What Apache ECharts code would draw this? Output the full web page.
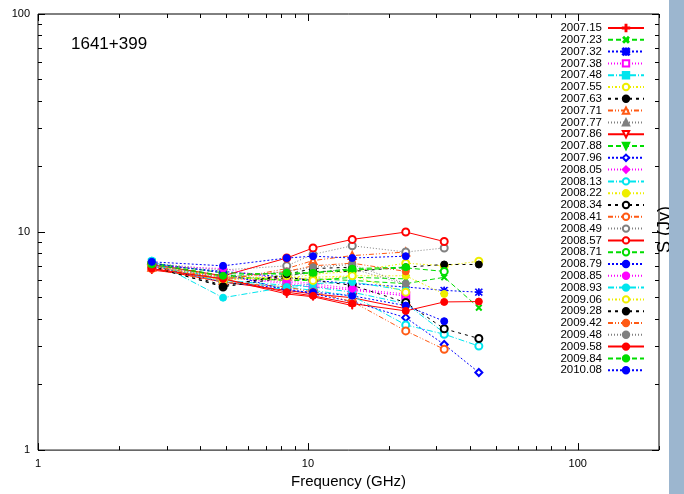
<!DOCTYPE html>
<html><head><meta charset="utf-8">
<script src="https://cdn.jsdelivr.net/npm/echarts@6/dist/echarts.min.js"></script>
<style>html,body{margin:0;padding:0;background:#fff}#c{width:684px;height:494px}</style>
</head><body><div id="c"></div>
<script>
const freqs = [2.64, 4.85, 8.35, 10.45, 14.6, 23.05, 32, 43];
const epochs = ['2007.15','2007.23','2007.32','2007.38','2007.48','2007.55','2007.63','2007.71','2007.77','2007.86','2007.88','2007.96','2008.05','2008.13','2008.22','2008.34','2008.41','2008.49','2008.57','2008.71','2008.79','2008.85','2008.93','2009.06','2009.28','2009.42','2009.48','2009.58','2009.84','2010.08'];
const v2007_15 = [6.7, 6.1, 5.2, 5.05, 4.6, null, null, null];
const v2007_23 = [7.2, 6.3, 6.0, 6.1, 6.0, 5.8, 6.2, 4.5];
const v2007_32 = [7.1, 6.6, 6.2, 6.0, 5.8, 5.6, 5.4, 5.3];
const v2007_38 = [7.0, 6.2, 5.9, 5.7, 5.4, 5.1, null, null];
const v2007_48 = [7.3, 6.0, 5.7, 5.6, 5.3, 4.7, 3.45, null];
const v2007_55 = [7.0, 6.3, 6.1, 6.4, 6.6, 7.2, 7.0, 7.35];
const v2007_63 = [7.1, 5.7, 6.3, 6.6, 6.6, 6.9, 7.1, 7.1];
const v2007_71 = [6.9, 6.0, 6.8, 7.4, 7.8, 8.1, null, null];
const v2007_77 = [7.0, 6.1, 6.3, 6.5, 6.8, 5.75, null, null];
const v2007_86 = [6.8, 5.9, 5.4, 5.2, 5.0, 4.45, null, null];
const v2007_88 = [7.2, 6.2, 6.0, 6.0, 6.2, 6.1, null, null];
const v2007_96 = [7.0, 5.9, 5.5, 5.2, 4.8, 4.05, 3.05, 2.27];
const v2008_05 = [7.1, 6.2, 5.8, 5.6, 5.45, 5.1, null, null];
const v2008_13 = [7.1, 5.9, 5.6, 5.4, 5.1, 3.75, 3.4, 3.0];
const v2008_22 = [7.1, 6.2, 6.0, 6.2, 6.3, 6.3, 5.2, null];
const v2008_34 = [7.0, 5.6, 6.2, 6.0, 5.7, 4.75, 3.6, 3.25];
const v2008_41 = [6.8, 5.9, 5.6, 5.3, 4.8, 3.52, 2.9, null];
const v2008_49 = [7.2, 6.7, 7.0, 7.9, 8.65, 8.1, 8.45, null];
const v2008_57 = [7.1, 6.3, 7.6, 8.45, 9.25, 10.0, 9.05, null];
const v2008_71 = [7.2, 6.5, 6.4, 6.5, 6.7, 6.85, 6.6, null];
const v2008_79 = [7.2, 6.5, 5.4, 5.3, 5.1, 4.6, 3.9, null];
const v2008_85 = [7.0, 6.8, 6.0, 5.8, 5.5, 5.2, null, null];
const v2008_93 = [7.4, 5.0, 5.6, 5.8, 5.9, 5.4, null, null];
const v2009_06 = [7.0, 6.0, 6.3, 6.0, 6.3, 5.3, null, null];
const v2009_28 = [6.9, 5.65, 6.4, 6.8, 6.9, null, null, null];
const v2009_42 = [7.0, 6.1, 6.6, 7.0, 7.2, 6.6, null, null];
const v2009_48 = [7.1, 6.2, 6.6, 6.9, 7.1, 5.8, null, null];
const v2009_58 = [6.8, 6.1, 5.3, 5.1, 4.7, 4.35, 4.78, 4.8];
const v2009_84 = [7.1, 6.3, 6.5, 6.5, 6.8, 6.9, null, null];
const v2010_08 = [7.3, 7.0, 7.6, 7.75, 7.6, 7.75, null, null];
const allValues = [v2007_15,v2007_23,v2007_32,v2007_38,v2007_48,v2007_55,v2007_63,v2007_71,v2007_77,v2007_86,v2007_88,v2007_96,v2008_05,v2008_13,v2008_22,v2008_34,v2008_41,v2008_49,v2008_57,v2008_71,v2008_79,v2008_85,v2008_93,v2009_06,v2009_28,v2009_42,v2009_48,v2009_58,v2009_84,v2010_08];
const majorTicks = [1, 10, 100];
const minorX = [2,3,4,5,6,7,8,9,20,30,40,50,60,70,80,90,200];
const minorY = [2,3,4,5,6,7,8,9,20,30,40,50,60,70,80,90];

const colors = ['#ff0000','#00dd00','#0000ff','#ff00ff','#00e5ee','#eeee00','#000000','#ff5a14','#808080'];
const dashes = ['solid',[5,3],[2,2],[1,2],[6,2,1,2],[2,2,1,2],[3,4],[5,2,1,2,1,2],[1,2]];
const PLUS = 'path://M4.3,0H5.7V4.3H10V5.7H5.7V10H4.3V5.7H0V4.3H4.3Z';
const STAR = 'path://M4.4,0H5.6V4.4H10V5.6H5.6V10H4.4V5.6H0V4.4H4.4Z M0.8,0L10,9.2L9.2,10L0,0.8Z M9.2,0L10,0.8L0.8,10L0,9.2Z';
const syms = [
  [PLUS,0],[PLUS,45],[STAR,0],['emptyRect',0],['rect',0],['emptyCircle',0],['circle',0],['emptyTriangle',0],['triangle',0],
  ['emptyTriangle',180],['triangle',180],['emptyDiamond',0],['diamond',0],['emptyCircle',0],['circle',0],
  ['emptyCircle',0],['emptyCircle',0],['emptyCircle',0],['emptyCircle',0],['emptyCircle',0],['circle',0],['circle',0],['circle',0],['emptyCircle',0],
  ['circle',0],['circle',0],['circle',0],['circle',0],['circle',0],['circle',0]
];

const series = epochs.map((e, i) => {
  const c = colors[i % 9];
  const data = [];
  allValues[i].forEach((v, j) => { if (v !== null) data.push([freqs[j], v]); });
  return {
    name: e, type: 'line', data: data,
    xAxisIndex: 0, yAxisIndex: 0,
    symbol: syms[i][0], symbolRotate: syms[i][1], symbolSize: 7,
    showAllSymbol: true,
    lineStyle: {color: c, width: 1, type: dashes[i % 9]},
    itemStyle: {color: c, borderColor: c, borderWidth: 1},
    emphasis: {disabled: true}
  };
});

const baseAxis = {type: 'log', logBase: 10, splitLine: {show: false}, axisLine: {show: false}};
const mk = (extra) => Object.assign({}, JSON.parse(JSON.stringify(baseAxis)), extra);
const labelStyle = {color: '#000', fontSize: 11, fontFamily: 'Liberation Sans, Arial, sans-serif'};

const chart = echarts.init(document.getElementById('c'), null, {renderer: 'canvas'});
chart.setOption({
  animation: false,
  backgroundColor: '#fff',
  title: {text: '1641+399', left: 66, top: 31, textStyle: {fontSize: 17, fontWeight: 'normal', color: '#000', fontFamily: 'Liberation Sans, Arial, sans-serif'}},
  grid: {left: 38, right: 25, top: 14, bottom: 36, show: true, borderColor: '#000', borderWidth: 1, backgroundColor: 'transparent'},
  legend: {
    orient: 'vertical', right: 34, top: 17, align: 'right',
    itemWidth: 36, itemHeight: 8, itemGap: -0.2,
    textStyle: {color: '#000', fontSize: 11.5, fontFamily: 'Liberation Sans, Arial, sans-serif', padding: [0,1,0,0]},
    data: epochs
  },
  xAxis: [
    mk({min: 1, max: 200, position: 'bottom', axisTick: {inside: true, length: 7, customValues: majorTicks, lineStyle: {color: '#000'}},
        axisLabel: {customValues: majorTicks, margin: 8, ...labelStyle},
        name: 'Frequency (GHz)', nameLocation: 'middle', nameGap: 23, nameTextStyle: {fontSize: 15, color: '#000', fontFamily: 'Liberation Sans, Arial, sans-serif'}}),
    mk({min: 1, max: 200, position: 'bottom', axisTick: {inside: true, length: 4, customValues: minorX, lineStyle: {color: '#000'}}, axisLabel: {show: false}}),
    mk({min: 1, max: 200, position: 'top', axisTick: {inside: true, length: 7, customValues: majorTicks, lineStyle: {color: '#000'}}, axisLabel: {show: false}}),
    mk({min: 1, max: 200, position: 'top', axisTick: {inside: true, length: 4, customValues: minorX, lineStyle: {color: '#000'}}, axisLabel: {show: false}})
  ],
  yAxis: [
    mk({min: 1, max: 100, position: 'left', axisTick: {inside: true, length: 7, customValues: majorTicks, lineStyle: {color: '#000'}},
        axisLabel: {customValues: majorTicks, margin: 8, ...labelStyle}}),
    mk({min: 1, max: 100, position: 'left', axisTick: {inside: true, length: 4, customValues: minorY, lineStyle: {color: '#000'}}, axisLabel: {show: false}}),
    mk({min: 1, max: 100, position: 'right', axisTick: {inside: true, length: 7, customValues: majorTicks, lineStyle: {color: '#000'}}, axisLabel: {show: false}}),
    mk({min: 1, max: 100, position: 'right', axisTick: {inside: true, length: 4, customValues: minorY, lineStyle: {color: '#000'}}, axisLabel: {show: false}})
  ],
  graphic: [
    {type: 'text', left: 656, top: 206, rotation: Math.PI / 2, z: 50,
     style: {text: 'S (Jy)', fontSize: 18, fill: '#000', fontFamily: 'Liberation Sans, Arial, sans-serif'}},
    {type: 'rect', shape: {x: 669, y: 0, width: 15, height: 494}, style: {fill: '#9cb6cf'}, z: 100}
  ],
  series: series
});
</script></body></html>
